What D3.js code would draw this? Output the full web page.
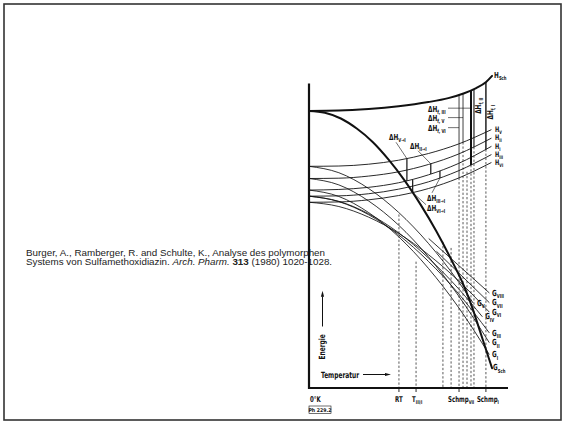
<!DOCTYPE html>
<html>
<head>
<meta charset="utf-8">
<script src="https://cdn.jsdelivr.net/npm/d3@7"></script>
<style>
  html, body { margin: 0; padding: 0; background: #fff; }
  svg { display: block; }
  .cite { font-family: "Liberation Sans", Arial, sans-serif; font-size: 9.8px; fill: #222; }
  .lab { font-family: "DejaVu Sans Condensed", "DejaVu Sans", sans-serif; font-weight: bold; fill: #111; }
</style>
</head>
<body>
<svg id="chart" width="565" height="425"></svg>
<script>
// ---- data (arbitrary units: temperature 0..100, energy 0..100) ----

// enthalpy and free enthalpy of the melt
const hMelt = [[0,91.0],[15,91.1],[30,91.6],[45,92.5],[60,93.9],[70,95.2],[78,96.8],[84,98.5],[89,100.5],[92,102.5]];
const gMelt = [[0,91.0],[8,90.4],[16,88.5],[24,85.2],[32,80.8],[40,75.0],[48,68.2],[56,60.3],[64,51.5],[72,41.5],[78,33.3],[82,26.5],[86,18.5],[89,12.5],[92,6.5]];

// enthalpy of the crystal forms
const hV   = [[0,72.8],[15,72.9],[30,73.5],[45,74.8],[60,77.0],[75,80.1],[91.5,84.8]];
const hII  = [[0,68.8],[15,68.9],[30,69.6],[45,71.0],[60,73.4],[75,76.8],[91.5,82.0]];
const hI   = [[0,65.0],[15,65.2],[30,65.9],[45,67.4],[60,70.0],[75,73.7],[91.5,79.3]];
const hIII = [[0,63.0],[15,63.1],[30,63.8],[45,65.3],[60,67.7],[75,71.3],[91.5,76.6]];
const hVI  = [[0,61.0],[15,61.1],[30,61.8],[45,63.2],[60,65.5],[75,68.9],[91.5,74.0]];

// free enthalpy of the crystal forms
const gV    = [[0,72.8],[15,70.7],[30,65.5],[45,57.7],[60,47.5],[75,35.0],[82.4,28.0]];
const gII   = [[0,68.8],[15,66.7],[30,61.4],[45,53.5],[60,43.1],[75,30.4],[90.5,15.0]];
const gI    = [[0,65.0],[15,62.9],[30,57.6],[45,49.7],[60,39.3],[75,26.6],[90.5,11.1]];
const gIII  = [[0,63.0],[15,61.2],[30,56.9],[45,50.3],[60,41.6],[75,31.1],[90.5,18.2]];
const gIV   = [[0,63.0],[15,61.3],[30,57.2],[45,51.0],[60,42.7],[75,32.7],[87,23.5]];
const gVI   = [[0,61.0],[15,59.6],[30,56.1],[45,50.8],[60,43.8],[75,35.3],[90.5,25.0]];
const gVII  = [[64.2,44.8],[90.5,28.1]];
const gVIII = [[60.3,49.0],[90.5,31.3]];

// melting temperatures (solid ΔH_f line from crystal H up to melt H)
const meltForms = ["VI", "V", "III", "II", "I"];
const meltTemps = [75.4, 77.4, 81.4, 82.9, 88.9];

// further marked temperatures: [temperature, top of dashed line]
const markTemps = [[45.2,57],[53.8,41.5],[67.3,48],[71.4,46],[79.4,71]];

// transition enthalpies: [temperature, upper form, lower form]
const transitions = [[49.2,"V","I"],[52.1,"I","VI"],[61.2,"II","I"],[65.8,"I","III"]];

// axis tick labels
const tickTemps = [45.2, 53.8, 75.4, 88.9];

const citeLine1 = "Burger, A., Ramberger, R. and Schulte, K., Analyse des polymorphen";
const citeLine2 = ["Systems von Sulfamethoxidiazin. ", "Arch. Pharm.", " ", "313", " (1980) 1020-1028."];

// ---- drawing ----
const svg = d3.select("#chart");

svg.append("rect")
  .attr("x", 4).attr("y", 4).attr("width", 557).attr("height", 416)
  .attr("fill", "none").attr("stroke", "#333").attr("stroke-width", 1.6);

// citation
svg.append("text").attr("class", "cite").attr("x", 26).attr("y", 255.5).text(citeLine1);
const c2 = svg.append("text").attr("class", "cite").attr("x", 26).attr("y", 265);
citeLine2.forEach((s, i) => {
  const t = c2.append("tspan").text(s);
  if (i === 1) t.attr("font-style", "italic");
  if (i === 3) t.attr("font-weight", "bold");
});

const x = d3.scaleLinear().domain([0, 100]).range([309, 508]);
const y = d3.scaleLinear().domain([0, 100]).range([388, 83.5]);

const g = svg.append("g");
const line = d3.line().x(d => x(d[0])).y(d => y(d[1])).curve(d3.curveMonotoneX);
const ink = "#111";

function curve(data, w) {
  return g.append("path").attr("d", line(data)).attr("fill", "none")
    .attr("stroke", ink).attr("stroke-width", w).attr("stroke-linecap", "round");
}

// y-pixel of a drawn path at a given x-pixel
function yAt(path, px) {
  const node = path.node();
  let lo = 0, hi = node.getTotalLength();
  for (let i = 0; i < 30; i++) {
    const mid = (lo + hi) / 2;
    if (node.getPointAtLength(mid).x < px) lo = mid; else hi = mid;
  }
  return node.getPointAtLength((lo + hi) / 2).y;
}

const hPaths = {
  V: curve(hV, 0.9), II: curve(hII, 0.9), I: curve(hI, 0.9),
  III: curve(hIII, 0.9), VI: curve(hVI, 0.9)
};
[gV, gII, gI, gIII, gIV, gVI, gVII, gVIII].forEach(d => curve(d, 0.85));
const hSch = curve(hMelt, 2.0);
curve(gMelt, 2.0);

// dashed marks down to the axis
markTemps.forEach(([t, top]) => {
  g.append("line").attr("x1", x(t)).attr("x2", x(t)).attr("y1", y(top)).attr("y2", y(0))
    .attr("stroke", ink).attr("stroke-width", 0.7).attr("stroke-dasharray", "2.3,1.9");
});

// melting points: solid ΔH_f above the crystal H, dashed below
const meltW = [0.8, 0.8, 2.0, 1.1, 1.4];
meltTemps.forEach((t, i) => {
  const px = x(t);
  const yH = yAt(hPaths[meltForms[i]], px);
  const yS = yAt(hSch, px);
  g.append("line").attr("x1", px).attr("x2", px).attr("y1", yS).attr("y2", yH)
    .attr("stroke", ink).attr("stroke-width", meltW[i]);
  g.append("line").attr("x1", px).attr("x2", px).attr("y1", yH).attr("y2", y(0))
    .attr("stroke", ink).attr("stroke-width", 0.7).attr("stroke-dasharray", "2.3,1.9");
});

// transition enthalpies
const transEnds = transitions.map(([t, a, b]) => {
  const px = x(t);
  const y1 = yAt(hPaths[a], px), y2 = yAt(hPaths[b], px);
  g.append("line").attr("x1", px).attr("x2", px).attr("y1", y1).attr("y2", y2)
    .attr("stroke", ink).attr("stroke-width", 1.2);
  return { px, y1, y2 };
});

// axes
g.append("line").attr("x1", x(0)).attr("x2", x(0)).attr("y1", y(100)).attr("y2", y(0) + 1)
  .attr("stroke", ink).attr("stroke-width", 2.2);
g.append("line").attr("x1", x(0) - 1).attr("x2", x(100)).attr("y1", y(0)).attr("y2", y(0))
  .attr("stroke", ink).attr("stroke-width", 2.2);
tickTemps.forEach(t => {
  g.append("line").attr("x1", x(t)).attr("x2", x(t)).attr("y1", y(0)).attr("y2", y(0) + 4)
    .attr("stroke", ink).attr("stroke-width", 0.9);
});

// ---- labels ----
function label(px, py, main, sub, opt = {}) {
  const fs = opt.fs || 8.4;
  const rot = opt.rot ? ` rotate(${opt.rot})` : "";
  const t = g.append("g").attr("transform", `translate(${px},${py})${rot} scale(0.76,1)`)
    .append("text").attr("class", "lab").attr("font-size", fs)
    .attr("text-anchor", opt.anchor || "start");
  t.append("tspan").text(main);
  if (sub) t.append("tspan").attr("font-size", fs * 0.66).attr("dy", fs * 0.28).text(sub);
  return t;
}

const end = d => d[d.length - 1];

label(x(end(hMelt)[0]) + 2, y(end(hMelt)[1]) + 2, "H", "Sch");
[["V", hV], ["II", hII], ["I", hI], ["III", hIII], ["VI", hVI]].forEach(([n, d]) => {
  label(x(end(d)[0]) + 4, y(end(d)[1]) + 2, "H", n, { fs: 7.4 });
});
[["VIII", gVIII], ["VII", gVII], ["VI", gVI], ["IV", gIV], ["III", gIII], ["II", gII], ["I", gI]].forEach(([n, d]) => {
  label(x(end(d)[0]) + 3, y(end(d)[1]) + 3, "G", n);
});
label(x(end(gV)[0]) + 4, y(end(gV)[1]) + 3, "G", "V");
label(x(end(gMelt)[0]) + 1, y(end(gMelt)[1]) + 2, "G", "Sch");

// ΔH_f labels with leaders: [subscript, baseline, leader level, melting line index]
const fusLab = [["f, III", 90.8, 91.9, 2], ["f, V", 87.8, 88.8, 1], ["f, VI", 84.4, 85.5, 0]];
fusLab.forEach(([s, base, mid, k]) => {
  label(428, y(base), "ΔH", s);
  g.append("line").attr("x1", 448).attr("x2", x(meltTemps[k])).attr("y1", y(mid)).attr("y2", y(mid))
    .attr("stroke", ink).attr("stroke-width", 0.6);
});
label(481, y(92.7), "ΔH", "f, II", { rot: -90, anchor: "middle" });
label(493, y(90.6), "ΔH", "f, I", { rot: -90, anchor: "middle" });

// transition labels with leaders
function leader(x1, yd, p) {
  g.append("line").attr("x1", x1).attr("y1", y(yd)).attr("x2", p[0]).attr("y2", p[1])
    .attr("stroke", ink).attr("stroke-width", 0.6);
}
label(389, y(81.4), "ΔH", "V→I");
leader(396, 80.7, [transEnds[0].px, transEnds[0].y1]);
label(410, y(78.6), "ΔH", "II→I");
leader(418, 77.9, [transEnds[2].px, transEnds[2].y1]);
label(427, y(61.4), "ΔH", "III→I");
leader(432, 64.1, [transEnds[3].px, transEnds[3].y2]);
label(427, y(58.1), "ΔH", "VI→I");
leader(426, 60.2, [transEnds[1].px, transEnds[1].y2]);

// axis texts
const tl = y(0) + 13.5;
label(x(0) + 1, tl, "0°K", null, { fs: 8 });
label(x(tickTemps[0]), tl, "RT", null, { anchor: "middle", fs: 8 });
label(x(tickTemps[1]) - 4, tl, "T", "III/I", { fs: 8 });
label(x(tickTemps[2]) - 11, tl, "Schmp", "VII", { fs: 8 });
label(x(tickTemps[3]) - 9, tl, "Schmp", "I", { fs: 8 });

g.append("rect").attr("x", x(0)).attr("y", y(0) + 18).attr("width", 22).attr("height", 7.5)
  .attr("fill", "none").attr("stroke", ink).attr("stroke-width", 0.6);
g.append("text").attr("class", "lab").attr("font-size", 5.2).attr("font-weight", "normal")
  .attr("x", x(0) + 11).attr("y", y(0) + 23.8).attr("text-anchor", "middle").text("Ph 229.2");

// axis titles with arrows
label(x(0) + 12, y(0) - 10.5, "Temperatur", null, { fs: 8.6 });
const ta = y(0) - 13.5;
g.append("line").attr("x1", 363).attr("x2", 386).attr("y1", ta).attr("y2", ta)
  .attr("stroke", ink).attr("stroke-width", 1);
g.append("path").attr("d", `M391,${ta} l-6,-1.6 l0,3.2 z`).attr("fill", ink);

label(x(0) + 16, y(13.5), "Energie", null, { rot: -90, anchor: "middle", fs: 8.6 });
const ex = x(0) + 13.5;
g.append("line").attr("x1", ex).attr("x2", ex).attr("y1", y(20.2)).attr("y2", y(30.1))
  .attr("stroke", ink).attr("stroke-width", 1);
g.append("path").attr("d", `M${ex},${y(31.9)} l-1.6,6 l3.2,0 z`).attr("fill", ink);
</script>
</body>
</html>
